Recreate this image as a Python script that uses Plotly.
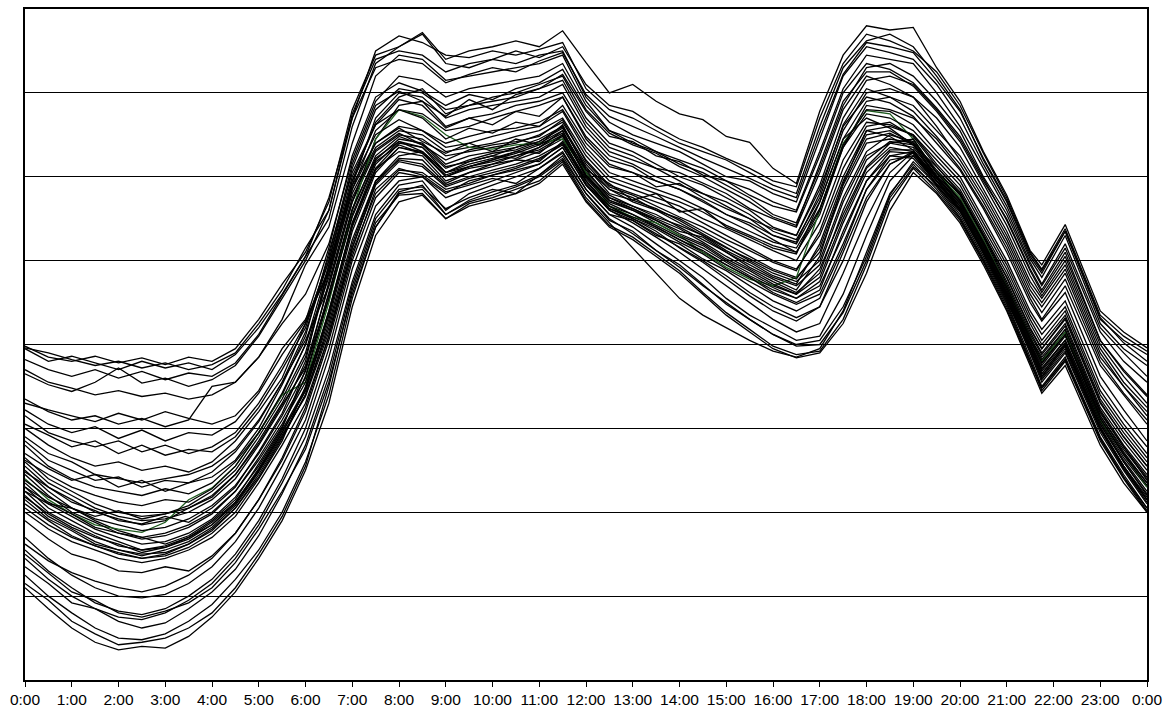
import plotly.graph_objects as go

# time of each reading (hours); half-hourly, with the 21:45 / 22:15 readings around the late spike
times = [0, 0.5, 1, 1.5, 2, 2.5, 3, 3.5, 4, 4.5, 5, 5.5,
         6, 6.5, 7, 7.5, 8, 8.5, 9, 9.5, 10, 10.5, 11, 11.5,
         12, 12.5, 13, 13.5, 14, 14.5, 15, 15.5, 16, 16.5, 17, 17.5,
         18, 18.5, 19, 19.5, 20, 20.5, 21, 21.5, 21.75, 22.25, 23, 23.5, 24]

tick_hours = list(range(25))
tick_labels = [f"{h}:00" for h in range(24)] + ["0:00"]

# daily load curves (arbitrary units, plot range 0..8)
w1 = [3.98, 3.85, 3.80, 3.86, 3.78, 3.84, 3.76, 3.85, 3.80, 3.95, 4.30, 4.72,
      5.10, 5.70, 6.80, 7.45, 7.55, 7.72, 7.40, 7.50, 7.55, 7.62, 7.55, 7.74,
      7.36, 7.00, 7.10, 6.90, 6.75, 6.68, 6.48, 6.41, 6.10, 5.92, 6.78, 7.45,
      7.80, 7.75, 7.78, 7.30, 6.90, 6.30, 5.78, 5.12, 4.95, 5.43, 4.40, 4.15, 3.96]
w2 = [3.96, 3.90, 3.82, 3.75, 3.80, 3.72, 3.78, 3.70, 3.76, 3.90, 4.25, 4.65,
      5.15, 5.60, 6.70, 7.50, 7.68, 7.60, 7.45, 7.42, 7.50, 7.45, 7.52, 7.60,
      7.05, 6.80, 6.70, 6.55, 6.40, 6.30, 6.20, 6.05, 5.90, 5.80, 6.60, 7.30,
      7.62, 7.70, 7.55, 7.20, 6.80, 6.20, 5.70, 5.05, 4.85, 5.35, 4.30, 4.05, 3.88]
w3 = [3.95, 3.80, 3.86, 3.78, 3.70, 3.80, 3.72, 3.78, 3.70, 3.88, 4.20, 4.60,
      5.05, 5.50, 6.60, 7.35, 7.55, 7.70, 7.35, 7.30, 7.40, 7.35, 7.45, 7.50,
      6.95, 6.65, 6.50, 6.40, 6.30, 6.15, 6.00, 5.95, 5.80, 5.70, 6.45, 7.20,
      7.55, 7.48, 7.40, 7.10, 6.70, 6.15, 5.65, 5.02, 4.80, 5.30, 4.25, 3.95, 3.75]
w4 = [3.70, 3.55, 3.48, 3.40, 3.45, 3.38, 3.42, 3.35, 3.40, 3.55, 3.85, 4.30,
      4.95, 5.40, 6.40, 7.20, 7.45, 7.40, 7.15, 7.20, 7.25, 7.30, 7.35, 7.45,
      6.90, 6.55, 6.45, 6.30, 6.20, 6.10, 5.95, 5.85, 5.70, 5.60, 6.30, 7.05,
      7.45, 7.40, 7.35, 7.00, 6.60, 6.10, 5.60, 4.98, 4.72, 5.20, 4.20, 3.90, 3.62]
w5 = [3.65, 3.52, 3.44, 3.55, 3.72, 3.54, 3.60, 3.50, 3.58, 3.75, 4.10, 4.55,
      5.00, 5.60, 6.75, 7.40, 7.50, 7.45, 7.25, 7.35, 7.40, 7.50, 7.42, 7.55,
      7.10, 6.85, 6.78, 6.60, 6.45, 6.35, 6.22, 6.10, 5.95, 5.88, 6.70, 7.35,
      7.70, 7.62, 7.50, 7.25, 6.85, 6.28, 5.75, 5.10, 4.90, 5.38, 4.35, 4.10, 3.92]
u1 = [3.35, 3.20, 3.10, 3.15, 3.05, 3.12, 3.02, 3.10, 3.50, 3.55, 3.85, 4.25,
      4.60, 5.20, 6.20, 6.90, 7.20, 7.15, 6.95, 7.05, 7.10, 7.15, 7.20, 7.35,
      6.85, 6.55, 6.40, 6.30, 6.15, 6.05, 5.90, 5.75, 5.55, 5.45, 6.10, 6.85,
      7.30, 7.35, 7.20, 6.90, 6.55, 6.00, 5.55, 4.95, 4.70, 5.15, 4.15, 3.80, 3.55]
u2 = [3.15, 2.95, 2.85, 2.78, 2.85, 2.72, 2.80, 2.70, 2.78, 2.95, 3.30, 3.75,
      4.25, 5.00, 6.10, 6.80, 7.05, 7.00, 6.80, 6.85, 6.95, 7.00, 7.10, 7.20,
      6.70, 6.40, 6.30, 6.15, 6.00, 5.90, 5.75, 5.60, 5.40, 5.30, 5.90, 6.70,
      7.15, 7.20, 7.10, 6.80, 6.45, 5.95, 5.50, 4.90, 4.65, 5.10, 4.05, 3.70, 3.40]
u3 = [3.00, 2.80, 2.65, 2.55, 2.60, 2.50, 2.55, 2.48, 2.60, 2.85, 3.20, 3.60,
      4.25, 4.90, 5.90, 6.70, 7.00, 6.95, 6.70, 6.80, 6.85, 6.90, 6.95, 7.10,
      6.60, 6.30, 6.20, 6.10, 5.95, 5.80, 5.70, 5.55, 5.35, 5.25, 5.75, 6.55,
      7.00, 7.05, 6.95, 6.70, 6.35, 5.85, 5.35, 4.75, 4.55, 4.95, 3.95, 3.55, 3.25]
u4 = [2.90, 2.70, 2.60, 2.45, 2.40, 2.35, 2.40, 2.45, 2.55, 2.75, 3.10, 3.55,
      4.05, 4.70, 5.70, 6.45, 6.85, 6.90, 6.60, 6.70, 6.75, 6.85, 6.90, 7.00,
      6.55, 6.25, 6.15, 6.00, 5.90, 5.80, 5.65, 5.50, 5.30, 5.20, 5.70, 6.45,
      6.90, 6.95, 6.85, 6.55, 6.25, 5.80, 5.30, 4.70, 4.50, 4.90, 3.90, 3.50, 3.20]
u5 = [3.30, 3.22, 3.15, 3.08, 3.18, 3.10, 3.20, 3.12, 3.05, 3.15, 3.45, 3.95,
      4.30, 4.85, 5.95, 6.65, 6.95, 7.05, 6.75, 6.85, 6.90, 6.95, 7.05, 7.15,
      6.65, 6.35, 6.25, 6.10, 6.05, 5.92, 5.80, 5.62, 5.50, 5.40, 6.05, 6.80,
      7.20, 7.10, 6.95, 6.60, 6.20, 5.75, 5.25, 4.65, 4.45, 4.85, 3.85, 3.50, 3.15]
u6 = [2.80, 2.55, 2.40, 2.30, 2.25, 2.20, 2.28, 2.22, 2.35, 2.60, 2.95, 3.40,
      4.00, 4.80, 5.85, 6.55, 6.80, 6.75, 6.55, 6.60, 6.70, 6.78, 6.85, 6.95,
      6.45, 6.15, 6.05, 5.95, 5.85, 5.72, 5.55, 5.42, 5.25, 5.10, 5.55, 6.35,
      6.85, 6.80, 6.70, 6.45, 6.10, 5.65, 5.15, 4.55, 4.30, 4.70, 3.75, 3.40, 3.05]
m1 = [2.40, 2.15, 1.98, 1.85, 1.80, 1.76, 1.88, 2.15, 2.29, 2.55, 2.95, 3.40,
      3.55, 4.50, 5.60, 6.45, 6.80, 6.72, 6.50, 6.35, 6.33, 6.38, 6.40, 6.45,
      6.05, 5.65, 5.52, 5.45, 5.30, 5.10, 4.92, 4.78, 4.70, 4.80, 5.60, 6.40,
      6.79, 6.75, 6.45, 6.05, 5.75, 5.25, 4.70, 4.10, 3.80, 4.15, 3.10, 2.70, 2.30]
m2 = [2.60, 2.35, 2.20, 2.05, 1.95, 1.90, 1.92, 2.00, 2.15, 2.40, 2.80, 3.25,
      3.75, 4.70, 5.70, 6.30, 6.50, 6.45, 6.25, 6.30, 6.35, 6.40, 6.50, 6.65,
      6.20, 5.90, 5.80, 5.70, 5.60, 5.45, 5.30, 5.15, 5.00, 4.90, 5.30, 6.00,
      6.55, 6.60, 6.50, 6.15, 5.85, 5.35, 4.85, 4.25, 4.00, 4.35, 3.35, 2.95, 2.60]
m3 = [2.50, 2.25, 2.05, 1.90, 1.78, 1.70, 1.75, 1.85, 2.00, 2.25, 2.65, 3.10,
      3.60, 4.55, 5.55, 6.20, 6.45, 6.40, 6.15, 6.25, 6.30, 6.35, 6.45, 6.60,
      6.10, 5.85, 5.70, 5.60, 5.50, 5.35, 5.20, 5.05, 4.90, 4.80, 5.10, 5.85,
      6.40, 6.45, 6.40, 6.05, 5.80, 5.30, 4.75, 4.15, 3.90, 4.25, 3.25, 2.85, 2.50]
m4 = [2.30, 2.05, 1.90, 1.75, 1.65, 1.55, 1.60, 1.70, 1.85, 2.10, 2.50, 2.95,
      3.45, 4.30, 5.35, 6.05, 6.35, 6.30, 6.05, 6.15, 6.22, 6.30, 6.40, 6.55,
      6.05, 5.78, 5.65, 5.55, 5.40, 5.25, 5.10, 4.95, 4.80, 4.70, 4.95, 5.70,
      6.25, 6.40, 6.35, 6.00, 5.70, 5.20, 4.65, 4.05, 3.80, 4.15, 3.15, 2.75, 2.40]
m5 = [2.20, 1.95, 1.80, 1.65, 1.55, 1.50, 1.52, 1.62, 1.80, 2.05, 2.45, 2.90,
      3.40, 4.20, 5.20, 5.95, 6.25, 6.30, 6.00, 6.10, 6.15, 6.25, 6.35, 6.50,
      6.00, 5.70, 5.60, 5.45, 5.30, 5.18, 5.00, 4.85, 4.70, 4.60, 4.80, 5.50,
      6.10, 6.35, 6.30, 5.95, 5.65, 5.15, 4.60, 4.00, 3.70, 4.05, 3.10, 2.65, 2.30]
m6 = [2.10, 1.90, 1.72, 1.60, 1.52, 1.45, 1.48, 1.58, 1.75, 2.00, 2.40, 2.85,
      3.50, 4.40, 5.45, 6.10, 6.30, 6.25, 5.95, 6.05, 6.15, 6.20, 6.30, 6.45,
      5.95, 5.65, 5.55, 5.40, 5.25, 5.10, 4.95, 4.80, 4.65, 4.55, 4.70, 5.30,
      5.95, 6.25, 6.30, 5.90, 5.60, 5.10, 4.55, 3.95, 3.65, 4.00, 3.05, 2.60, 2.20]
m7 = [2.55, 2.30, 2.15, 2.00, 1.92, 1.85, 1.90, 2.05, 2.20, 2.45, 2.85, 3.30,
      3.85, 4.85, 5.80, 6.35, 6.55, 6.50, 6.30, 6.35, 6.40, 6.48, 6.55, 6.70,
      6.25, 5.95, 5.85, 5.75, 5.65, 5.50, 5.38, 5.25, 5.12, 5.00, 5.45, 6.20,
      6.65, 6.62, 6.50, 6.20, 5.90, 5.40, 4.90, 4.30, 4.05, 4.40, 3.40, 3.00, 2.65]
m8 = [2.45, 2.20, 2.00, 1.88, 1.75, 1.68, 1.72, 1.82, 1.98, 2.25, 2.62, 3.05,
      3.55, 4.35, 5.40, 6.10, 6.40, 6.35, 6.10, 6.20, 6.28, 6.32, 6.42, 6.58,
      6.12, 5.80, 5.72, 5.62, 5.48, 5.32, 5.15, 5.00, 4.85, 4.75, 5.00, 5.75,
      6.30, 6.50, 6.42, 6.08, 5.78, 5.28, 4.72, 4.12, 3.88, 4.22, 3.22, 2.80, 2.45]
m9 = [2.35, 2.10, 1.95, 1.80, 1.70, 1.62, 1.65, 1.75, 1.92, 2.18, 2.55, 3.00,
      3.70, 4.60, 5.60, 6.25, 6.48, 6.38, 6.12, 6.18, 6.25, 6.35, 6.42, 6.60,
      6.15, 5.85, 5.75, 5.60, 5.45, 5.30, 5.12, 4.98, 4.82, 4.72, 5.20, 5.95,
      6.50, 6.55, 6.40, 6.05, 5.72, 5.22, 4.68, 4.08, 3.85, 4.18, 3.18, 2.78, 2.38]
m10 = [2.05, 1.85, 1.70, 1.60, 1.50, 1.45, 1.50, 1.62, 1.78, 2.05, 2.42, 2.88,
       3.40, 4.25, 5.25, 5.95, 6.20, 6.15, 5.90, 6.00, 6.08, 6.15, 6.25, 6.40,
       5.92, 5.62, 5.50, 5.38, 5.22, 5.08, 4.90, 4.75, 4.60, 4.48, 4.60, 5.20,
       5.85, 6.20, 6.25, 5.92, 5.62, 5.12, 4.58, 3.98, 3.62, 3.98, 3.00, 2.55, 2.15]
m11 = [2.65, 2.40, 2.25, 2.10, 2.00, 1.95, 1.98, 2.08, 2.25, 2.50, 2.90, 3.35,
       3.90, 4.90, 5.85, 6.40, 6.60, 6.55, 6.35, 6.40, 6.48, 6.55, 6.60, 6.78,
       6.30, 6.00, 5.90, 5.80, 5.70, 5.58, 5.42, 5.30, 5.18, 5.10, 5.60, 6.35,
       6.75, 6.70, 6.55, 6.25, 5.95, 5.45, 4.95, 4.35, 4.12, 4.45, 3.45, 3.05, 2.70]
m12 = [2.25, 2.00, 1.85, 1.72, 1.60, 1.55, 1.58, 1.68, 1.85, 2.12, 2.50, 2.95,
       3.45, 4.35, 5.45, 6.15, 6.42, 6.35, 6.05, 6.12, 6.20, 6.28, 6.38, 6.52,
       6.08, 5.75, 5.62, 5.50, 5.38, 5.22, 5.05, 4.90, 4.75, 4.62, 4.85, 5.60,
       6.20, 6.42, 6.38, 6.00, 5.68, 5.18, 4.62, 4.02, 3.75, 4.10, 3.12, 2.70, 2.35]
m13 = [2.15, 1.92, 1.78, 1.62, 1.55, 1.48, 1.55, 1.65, 1.82, 2.08, 2.48, 2.92,
       3.38, 4.15, 5.15, 5.90, 6.18, 6.12, 5.88, 5.98, 6.05, 6.12, 6.22, 6.38,
       5.95, 5.62, 5.52, 5.40, 5.25, 5.12, 4.95, 4.80, 4.62, 4.50, 4.65, 5.35,
       5.95, 6.30, 6.28, 5.95, 5.65, 5.15, 4.60, 4.00, 3.72, 4.05, 3.08, 2.62, 2.25]
s1 = [1.45, 1.20, 1.00, 0.85, 0.75, 0.72, 0.80, 0.95, 1.15, 1.45, 1.85, 2.35,
      2.90, 3.70, 4.75, 5.55, 5.90, 5.95, 5.60, 5.80, 5.90, 6.00, 6.10, 6.30,
      5.85, 5.55, 5.40, 5.20, 5.00, 4.80, 4.55, 4.35, 4.20, 4.05, 4.10, 4.60,
      5.30, 5.95, 6.25, 5.95, 5.60, 5.10, 4.55, 3.90, 3.55, 3.90, 2.95, 2.50, 2.10]
s2 = [1.25, 1.00, 0.80, 0.62, 0.50, 0.48, 0.55, 0.70, 0.90, 1.20, 1.55, 2.00,
      2.60, 3.40, 4.55, 5.40, 5.80, 5.85, 5.55, 5.70, 5.78, 5.88, 6.00, 6.20,
      5.75, 5.45, 5.15, 4.85, 4.55, 4.35, 4.20, 4.05, 3.92, 3.85, 3.95, 4.40,
      5.10, 5.80, 6.15, 5.85, 5.50, 5.00, 4.45, 3.80, 3.45, 3.80, 2.85, 2.40, 2.00]
s3 = [1.10, 0.85, 0.62, 0.45, 0.36, 0.40, 0.38, 0.52, 0.75, 1.05, 1.45, 1.90,
      2.50, 3.30, 4.45, 5.30, 5.70, 5.78, 5.50, 5.65, 5.72, 5.80, 5.92, 6.15,
      5.70, 5.40, 5.25, 5.05, 4.85, 4.60, 4.35, 4.15, 3.95, 3.84, 3.90, 4.25,
      4.85, 5.60, 6.05, 5.80, 5.45, 4.95, 4.40, 3.75, 3.42, 3.75, 2.80, 2.35, 2.00]
s4 = [1.55, 1.30, 1.10, 0.92, 0.82, 0.78, 0.85, 1.00, 1.20, 1.50, 1.90, 2.40,
      3.00, 3.85, 4.90, 5.65, 5.95, 6.00, 5.75, 5.85, 5.95, 6.05, 6.15, 6.35,
      5.90, 5.60, 5.45, 5.28, 5.10, 4.90, 4.70, 4.50, 4.30, 4.15, 4.25, 4.85,
      5.50, 6.05, 6.30, 6.00, 5.65, 5.15, 4.60, 3.95, 3.60, 3.95, 3.00, 2.55, 2.15]
s5 = [1.15, 0.95, 0.70, 0.55, 0.42, 0.45, 0.50, 0.62, 0.80, 1.10, 1.50, 1.95,
      2.55, 3.50, 4.65, 5.45, 5.78, 5.80, 5.50, 5.68, 5.75, 5.85, 5.95, 6.18,
      5.72, 5.42, 5.28, 5.08, 4.88, 4.62, 4.38, 4.18, 3.98, 3.88, 3.92, 4.30,
      4.95, 5.70, 6.10, 5.82, 5.48, 4.98, 4.42, 3.78, 3.48, 3.82, 2.88, 2.42, 2.05]
s6 = [1.70, 1.45, 1.25, 1.10, 1.00, 0.98, 1.02, 1.15, 1.35, 1.65, 2.05, 2.55,
      3.10, 3.95, 5.00, 5.75, 6.05, 6.00, 5.80, 5.95, 6.02, 6.10, 6.20, 6.40,
      5.95, 5.65, 5.50, 5.35, 5.15, 4.98, 4.78, 4.58, 4.40, 4.28, 4.45, 5.10,
      5.75, 6.15, 6.30, 5.98, 5.62, 5.12, 4.58, 3.98, 3.65, 4.00, 3.02, 2.55, 2.18]
j1 = [2.48, 2.30, 2.12, 2.02, 1.90, 1.86, 1.95, 1.88, 2.05, 2.30, 2.72, 3.18,
      3.80, 4.95, 5.90, 6.40, 6.58, 6.42, 6.28, 6.40, 6.30, 6.45, 6.38, 6.62,
      6.08, 5.92, 5.72, 5.80, 5.58, 5.62, 5.40, 5.28, 5.15, 5.08, 5.70, 6.45,
      6.70, 6.58, 6.38, 6.12, 5.80, 5.30, 4.80, 4.18, 3.95, 4.30, 3.30, 2.90, 2.55]
j2 = [2.70, 2.52, 2.38, 2.45, 2.30, 2.38, 2.25, 2.35, 2.42, 2.62, 3.00, 3.52,
      4.10, 5.10, 6.05, 6.62, 6.80, 6.70, 6.45, 6.58, 6.52, 6.65, 6.60, 6.85,
      6.40, 6.12, 6.05, 5.88, 5.92, 5.75, 5.62, 5.50, 5.38, 5.30, 5.85, 6.60,
      6.95, 6.88, 6.72, 6.40, 6.08, 5.62, 5.10, 4.50, 4.28, 4.62, 3.62, 3.22, 2.85]
j3 = [1.90, 1.68, 1.50, 1.42, 1.30, 1.28, 1.35, 1.30, 1.48, 1.75, 2.15, 2.62,
      3.20, 4.05, 5.05, 5.85, 6.10, 6.02, 5.82, 5.90, 5.98, 5.92, 6.10, 6.28,
      5.85, 5.55, 5.48, 5.30, 5.20, 5.02, 4.88, 4.70, 4.52, 4.40, 4.55, 5.15,
      5.85, 6.25, 6.22, 5.90, 5.58, 5.08, 4.52, 3.92, 3.58, 3.92, 2.98, 2.52, 2.12]
j4 = [3.05, 2.92, 2.78, 2.85, 2.70, 2.80, 2.68, 2.75, 2.72, 2.90, 3.25, 3.70,
      4.20, 5.05, 6.15, 6.85, 7.02, 6.90, 6.72, 6.92, 6.80, 6.98, 7.05, 7.22,
      6.78, 6.48, 6.42, 6.25, 6.18, 6.02, 5.95, 5.78, 5.65, 5.58, 6.25, 7.00,
      7.35, 7.28, 7.12, 6.82, 6.48, 5.98, 5.48, 4.88, 4.62, 5.05, 4.05, 3.68, 3.38]
j5 = [2.30, 2.12, 1.98, 1.82, 1.75, 1.70, 1.62, 1.72, 1.90, 2.15, 2.58, 3.02,
      3.62, 4.62, 5.62, 6.22, 6.42, 6.30, 6.05, 6.18, 6.25, 6.22, 6.35, 6.55,
      6.00, 5.72, 5.62, 5.48, 5.35, 5.28, 5.10, 4.92, 4.78, 4.65, 5.05, 5.92,
      6.55, 6.48, 6.32, 5.98, 5.68, 5.18, 4.62, 4.05, 3.78, 4.12, 3.15, 2.72, 2.35]
j6 = [1.35, 1.15, 0.92, 0.85, 0.70, 0.62, 0.68, 0.85, 1.05, 1.32, 1.72, 2.22,
      2.80, 3.62, 4.70, 5.50, 5.85, 5.88, 5.62, 5.75, 5.85, 5.80, 6.02, 6.22,
      5.80, 5.48, 5.35, 5.12, 4.95, 4.72, 4.48, 4.30, 4.12, 4.00, 4.05, 4.45,
      5.05, 5.78, 6.18, 5.90, 5.55, 5.05, 4.50, 3.85, 3.50, 3.85, 2.90, 2.45, 2.05]
j7 = [2.25, 2.10, 2.05, 1.95, 2.02, 1.92, 1.98, 2.05, 2.18, 2.45, 2.82, 3.28,
      3.72, 4.55, 5.52, 6.18, 6.38, 6.28, 6.02, 6.12, 6.20, 6.30, 6.28, 6.50,
      6.02, 5.75, 5.65, 5.52, 5.42, 5.30, 5.15, 5.02, 4.88, 4.78, 5.15, 5.90,
      6.45, 6.52, 6.38, 6.02, 5.72, 5.22, 4.68, 4.08, 3.82, 4.18, 3.20, 2.78, 2.42]
j8 = [2.85, 2.62, 2.50, 2.38, 2.42, 2.30, 2.38, 2.35, 2.48, 2.72, 3.08, 3.55,
      4.15, 5.00, 6.00, 6.62, 6.92, 6.85, 6.58, 6.70, 6.62, 6.78, 6.72, 6.95,
      6.48, 6.20, 6.12, 5.95, 5.85, 5.70, 5.55, 5.45, 5.30, 5.22, 5.80, 6.62,
      7.05, 6.95, 6.78, 6.48, 6.15, 5.70, 5.20, 4.60, 4.38, 4.78, 3.80, 3.42, 3.10]
j9 = [2.00, 1.80, 1.65, 1.55, 1.45, 1.40, 1.45, 1.55, 1.70, 1.95, 2.35, 2.80,
      3.30, 4.10, 5.15, 5.92, 6.22, 6.20, 5.92, 6.05, 6.12, 6.20, 6.18, 6.42,
      5.98, 5.68, 5.55, 5.42, 5.28, 5.15, 4.98, 4.82, 4.68, 4.55, 4.75, 5.45,
      6.05, 6.32, 6.32, 5.95, 5.62, 5.12, 4.58, 3.98, 3.68, 4.02, 3.05, 2.60, 2.22]
j10 = [3.82, 3.70, 3.62, 3.70, 3.60, 3.68, 3.58, 3.66, 3.62, 3.78, 4.12, 4.58,
       5.05, 5.75, 6.70, 7.30, 7.40, 7.35, 7.12, 7.22, 7.30, 7.25, 7.38, 7.48,
       6.98, 6.72, 6.60, 6.48, 6.35, 6.22, 6.10, 5.98, 5.85, 5.75, 6.52, 7.22,
       7.60, 7.55, 7.48, 7.15, 6.78, 6.22, 5.72, 5.08, 4.88, 5.35, 4.32, 4.02, 3.80]
j11 = [1.50, 1.28, 1.05, 0.95, 0.80, 0.75, 0.82, 0.92, 1.10, 1.40, 1.80, 2.25,
       2.75, 3.55, 4.60, 5.40, 5.82, 5.90, 5.55, 5.72, 5.82, 5.90, 6.02, 6.25,
       5.80, 5.50, 5.32, 5.12, 4.92, 4.70, 4.50, 4.30, 4.12, 3.98, 4.00, 4.38,
       5.00, 5.75, 6.12, 5.88, 5.52, 5.02, 4.48, 3.82, 3.48, 3.82, 2.88, 2.42, 2.02]
j12 = [2.38, 2.18, 2.05, 1.92, 1.85, 1.78, 1.82, 1.92, 2.08, 2.32, 2.70, 3.15,
       3.68, 4.75, 5.75, 6.32, 6.52, 6.38, 6.20, 6.32, 6.38, 6.42, 6.48, 6.68,
       6.18, 5.88, 5.78, 5.65, 5.52, 5.40, 5.25, 5.12, 4.98, 4.88, 5.35, 6.10,
       6.60, 6.65, 6.48, 6.12, 5.82, 5.32, 4.80, 4.20, 3.95, 4.32, 3.32, 2.90, 2.55]
j13 = [1.62, 1.42, 1.28, 1.18, 1.10, 1.05, 1.12, 1.25, 1.45, 1.75, 2.15, 2.65,
       3.25, 4.10, 5.10, 5.80, 6.08, 6.05, 5.85, 5.92, 6.02, 6.08, 6.15, 6.35,
       5.90, 5.60, 5.48, 5.32, 5.15, 5.00, 4.82, 4.62, 4.45, 4.32, 4.45, 5.00,
       5.70, 6.15, 6.28, 5.95, 5.60, 5.10, 4.55, 3.95, 3.62, 3.98, 3.00, 2.52, 2.15]
j14 = [2.62, 2.45, 2.30, 2.20, 2.12, 2.08, 2.15, 2.12, 2.28, 2.55, 2.95, 3.42,
       4.00, 4.95, 5.95, 6.50, 6.68, 6.55, 6.40, 6.48, 6.55, 6.58, 6.65, 6.80,
       6.35, 6.05, 5.95, 5.85, 5.75, 5.62, 5.48, 5.35, 5.22, 5.15, 5.62, 6.38,
       6.80, 6.78, 6.62, 6.30, 6.00, 5.50, 5.00, 4.40, 4.18, 4.52, 3.52, 3.12, 2.78]
j15 = [3.22, 3.05, 2.95, 3.02, 2.88, 2.98, 2.85, 2.95, 2.92, 3.08, 3.42, 3.88,
       4.28, 5.15, 6.25, 6.95, 7.12, 7.02, 6.85, 6.98, 6.92, 7.05, 7.12, 7.28,
       6.80, 6.52, 6.38, 6.28, 6.12, 6.00, 5.85, 5.70, 5.52, 5.42, 6.15, 6.90,
       7.25, 7.25, 7.08, 6.78, 6.42, 5.92, 5.42, 4.82, 4.58, 5.00, 4.00, 3.62, 3.30]
j16 = [2.18, 1.98, 1.82, 1.70, 1.62, 1.52, 1.58, 1.70, 1.88, 2.12, 2.52, 2.98,
       3.48, 4.40, 5.42, 6.08, 6.35, 6.28, 6.00, 6.12, 6.18, 6.25, 6.32, 6.48,
       6.02, 5.72, 5.60, 5.48, 5.32, 5.20, 5.02, 4.88, 4.72, 4.60, 4.90, 5.55,
       6.12, 6.40, 6.45, 6.05, 5.72, 5.22, 4.65, 4.05, 3.78, 4.12, 3.12, 2.68, 2.32]

black_curves = [w1, w2, w3, w4, w5, j10, u1, u2, u3, u4, u5, u6, j4, j8, j15,
                m2, m3, m4, m5, m6, m7, j1, j2, j5, j7, j9, j12, j14, j16,
                m8, m9, m10, m11, m12, m13, j3, j13,
                s1, s2, s3, s4, s5, s6, j6, j11]
green_curve = m1

for k, c in enumerate(black_curves + [green_curve]):
    if len(c) != len(times):
        raise ValueError(f"curve {k} has {len(c)} values")

fig = go.Figure()
for k, c in enumerate(black_curves):
    fig.add_trace(go.Scatter(x=times, y=c, mode="lines",
                             line=dict(color="black", width=1.3),
                             hoverinfo="skip", showlegend=False))
    if k == 20:
        fig.add_trace(go.Scatter(x=times, y=green_curve, mode="lines",
                                 line=dict(color="#1e5a1e", width=1.3),
                                 hoverinfo="skip", showlegend=False))

fig.update_layout(
    width=1172, height=716,
    margin=dict(l=25, r=25, t=7, b=36),
    paper_bgcolor="white", plot_bgcolor="white",
    font=dict(family="Liberation Sans, Arial, sans-serif", size=13, color="black"),
    showlegend=False,
)
fig.update_xaxes(
    range=[0, 24], tickmode="array", tickvals=tick_hours, ticktext=tick_labels,
    tickfont=dict(size=15.5),
    ticks="outside", ticklen=5, tickwidth=1, tickcolor="black",
    showgrid=False, zeroline=False,
    showline=True, linecolor="black", linewidth=1.5, mirror=True,
)
fig.update_yaxes(
    range=[0, 8], dtick=1, showticklabels=False, ticks="",
    showgrid=True, gridcolor="black", gridwidth=1, zeroline=False,
    showline=True, linecolor="black", linewidth=1.5, mirror=True,
)

fig.write_html("out.html")
